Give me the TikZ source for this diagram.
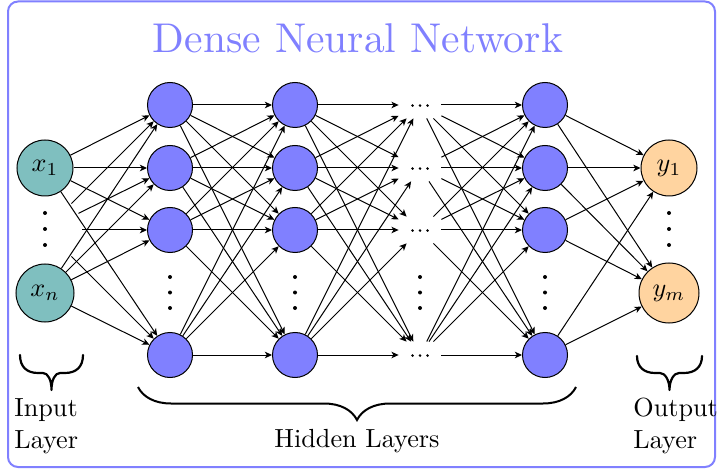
\documentclass[tikz,border=0pt]{standalone}
\usepackage{graphicx}
\usetikzlibrary{arrows.meta,decorations.pathreplacing}

\definecolor{hidfill}{RGB}{128,128,255}
\definecolor{infill}{RGB}{127,191,191}
\definecolor{outfill}{RGB}{255,212,160}
\definecolor{framecol}{RGB}{128,128,255}

% text is set at 10pt and enlarged, keeping the 10pt design widths
\newcommand\biglabel[1]{\scalebox{1.31}{#1}}
\newcommand\hugelabel[1]{\scalebox{2.08}{#1}}

\begin{document}
\begin{tikzpicture}[x=0.5pt,y=-0.5pt,
  neuron/.style={circle,draw,line width=0.5pt,inner sep=0pt,font=\normalsize},
  hidden/.style={neuron,fill=hidfill,minimum size=22.5pt},
  innode/.style={neuron,fill=infill,minimum size=28pt},
  outnode/.style={neuron,fill=outfill,minimum size=28pt},
  ghost/.style={circle,inner sep=0pt,minimum size=37pt},
  skipnode/.style={rectangle,inner sep=0pt,minimum width=21pt,minimum height=13pt},
  link/.style={line width=0.5pt,-{Stealth[length=3.6pt,width=3.3pt,inset=1pt]}},
  lbl/.style={inner sep=0pt,font=\normalsize},
  bigbrace/.style={decorate,decoration={brace,mirror,amplitude=16.5pt},line width=1pt},
  smallbrace/.style={line width=1.1pt,line cap=round,line join=round},
  dotfill/.style={fill=black}
]
\useasboundingbox (0,0) rectangle (717,470);

% frame and title
\draw[framecol,line width=1pt,rounded corners=5pt] (8,1.5) rectangle (715,467);
\node[anchor=base,text=framecol,inner sep=0pt,font=\normalsize]
  (title) at (358,53) {\hugelabel{Dense Neural Network}};

% input layer
\node[innode] (I1) at (45,168) {\biglabel{$x_1$}};
\node[ghost] (Id) at (45,230) {};
\node[innode,minimum size=29pt] (In) at (45,293) {\biglabel{$x_n$}};

% hidden layers; the third one is elided
\foreach \r [count=\i] in {105,168,230,355} {
  \node[hidden] (A\i) at (170,\r) {};
  \node[hidden] (B\i) at (295,\r) {};
  \node[skipnode] (C\i) at (420,\r) {};
  \node[hidden] (D\i) at (545,\r) {};
  \foreach \dx in {-7.5,0,7.5}
    \fill[dotfill] ([xshift=\dx*0.5pt,yshift=-0.3pt]C\i.center) circle (1.4);
}

% output layer
\node[outnode] (O1) at (669,168) {\biglabel{$y_1$}};
\node[outnode,minimum size=30pt] (Om) at (669,293) {\biglabel{$y_m$}};

% vertical ellipses
\foreach \y in {213,229,245} {
  \fill[dotfill] (45,\y) circle (2);
  \fill[dotfill] (669,\y) circle (2);
}
\foreach \x in {170,295,420,545}
  \foreach \y in {277,292.5,308}
    \fill[dotfill] (\x,\y) circle (2);

% connections
\foreach \s in {I1,Id,In}
  \foreach \t in {A1,A2,A3,A4}
    \draw[link] (\s) -- (\t);
\foreach \i in {1,...,4}
  \foreach \j in {1,...,4} {
    \draw[link] (A\i) -- (B\j);
    \draw[link] (B\i) -- (C\j);
    \draw[link] (C\i) -- (D\j);
  }
\foreach \i in {1,...,4}
  \foreach \t in {O1,Om}
    \draw[link] (D\i) -- (\t);

% braces
\draw[smallbrace] (20,355) .. controls (20,367) and (27,373) .. (38,373)
  -- (43,373) .. controls (48,373) and (51.5,380) .. (51.5,390)
  .. controls (51.5,380) and (55,373) .. (60,373)
  -- (65,373) .. controls (76,373) and (83,367) .. (83,355);
\draw[smallbrace] (637,356) .. controls (637,367) and (644,373) .. (655,373)
  -- (660,373) .. controls (665,373) and (669.5,380) .. (669.5,390)
  .. controls (669.5,380) and (674,373) .. (679,373)
  -- (684,373) .. controls (695,373) and (702,367) .. (702,356);
\draw[bigbrace] (138,387) -- (576,387);

% layer labels
\node[lbl,anchor=base west] (inlab1) at (14,416) {\biglabel{Input}};
\node[lbl,anchor=base west] (inlab2) at (14,448) {\biglabel{Layer}};
\node[lbl,anchor=base] (hidlab) at (357,447) {\biglabel{Hidden Layers}};
\node[lbl,anchor=base west] (outlab1) at (633,416) {\biglabel{Output}};
\node[lbl,anchor=base west] (outlab2) at (633,448) {\biglabel{Layer}};
\end{tikzpicture}
\end{document}
